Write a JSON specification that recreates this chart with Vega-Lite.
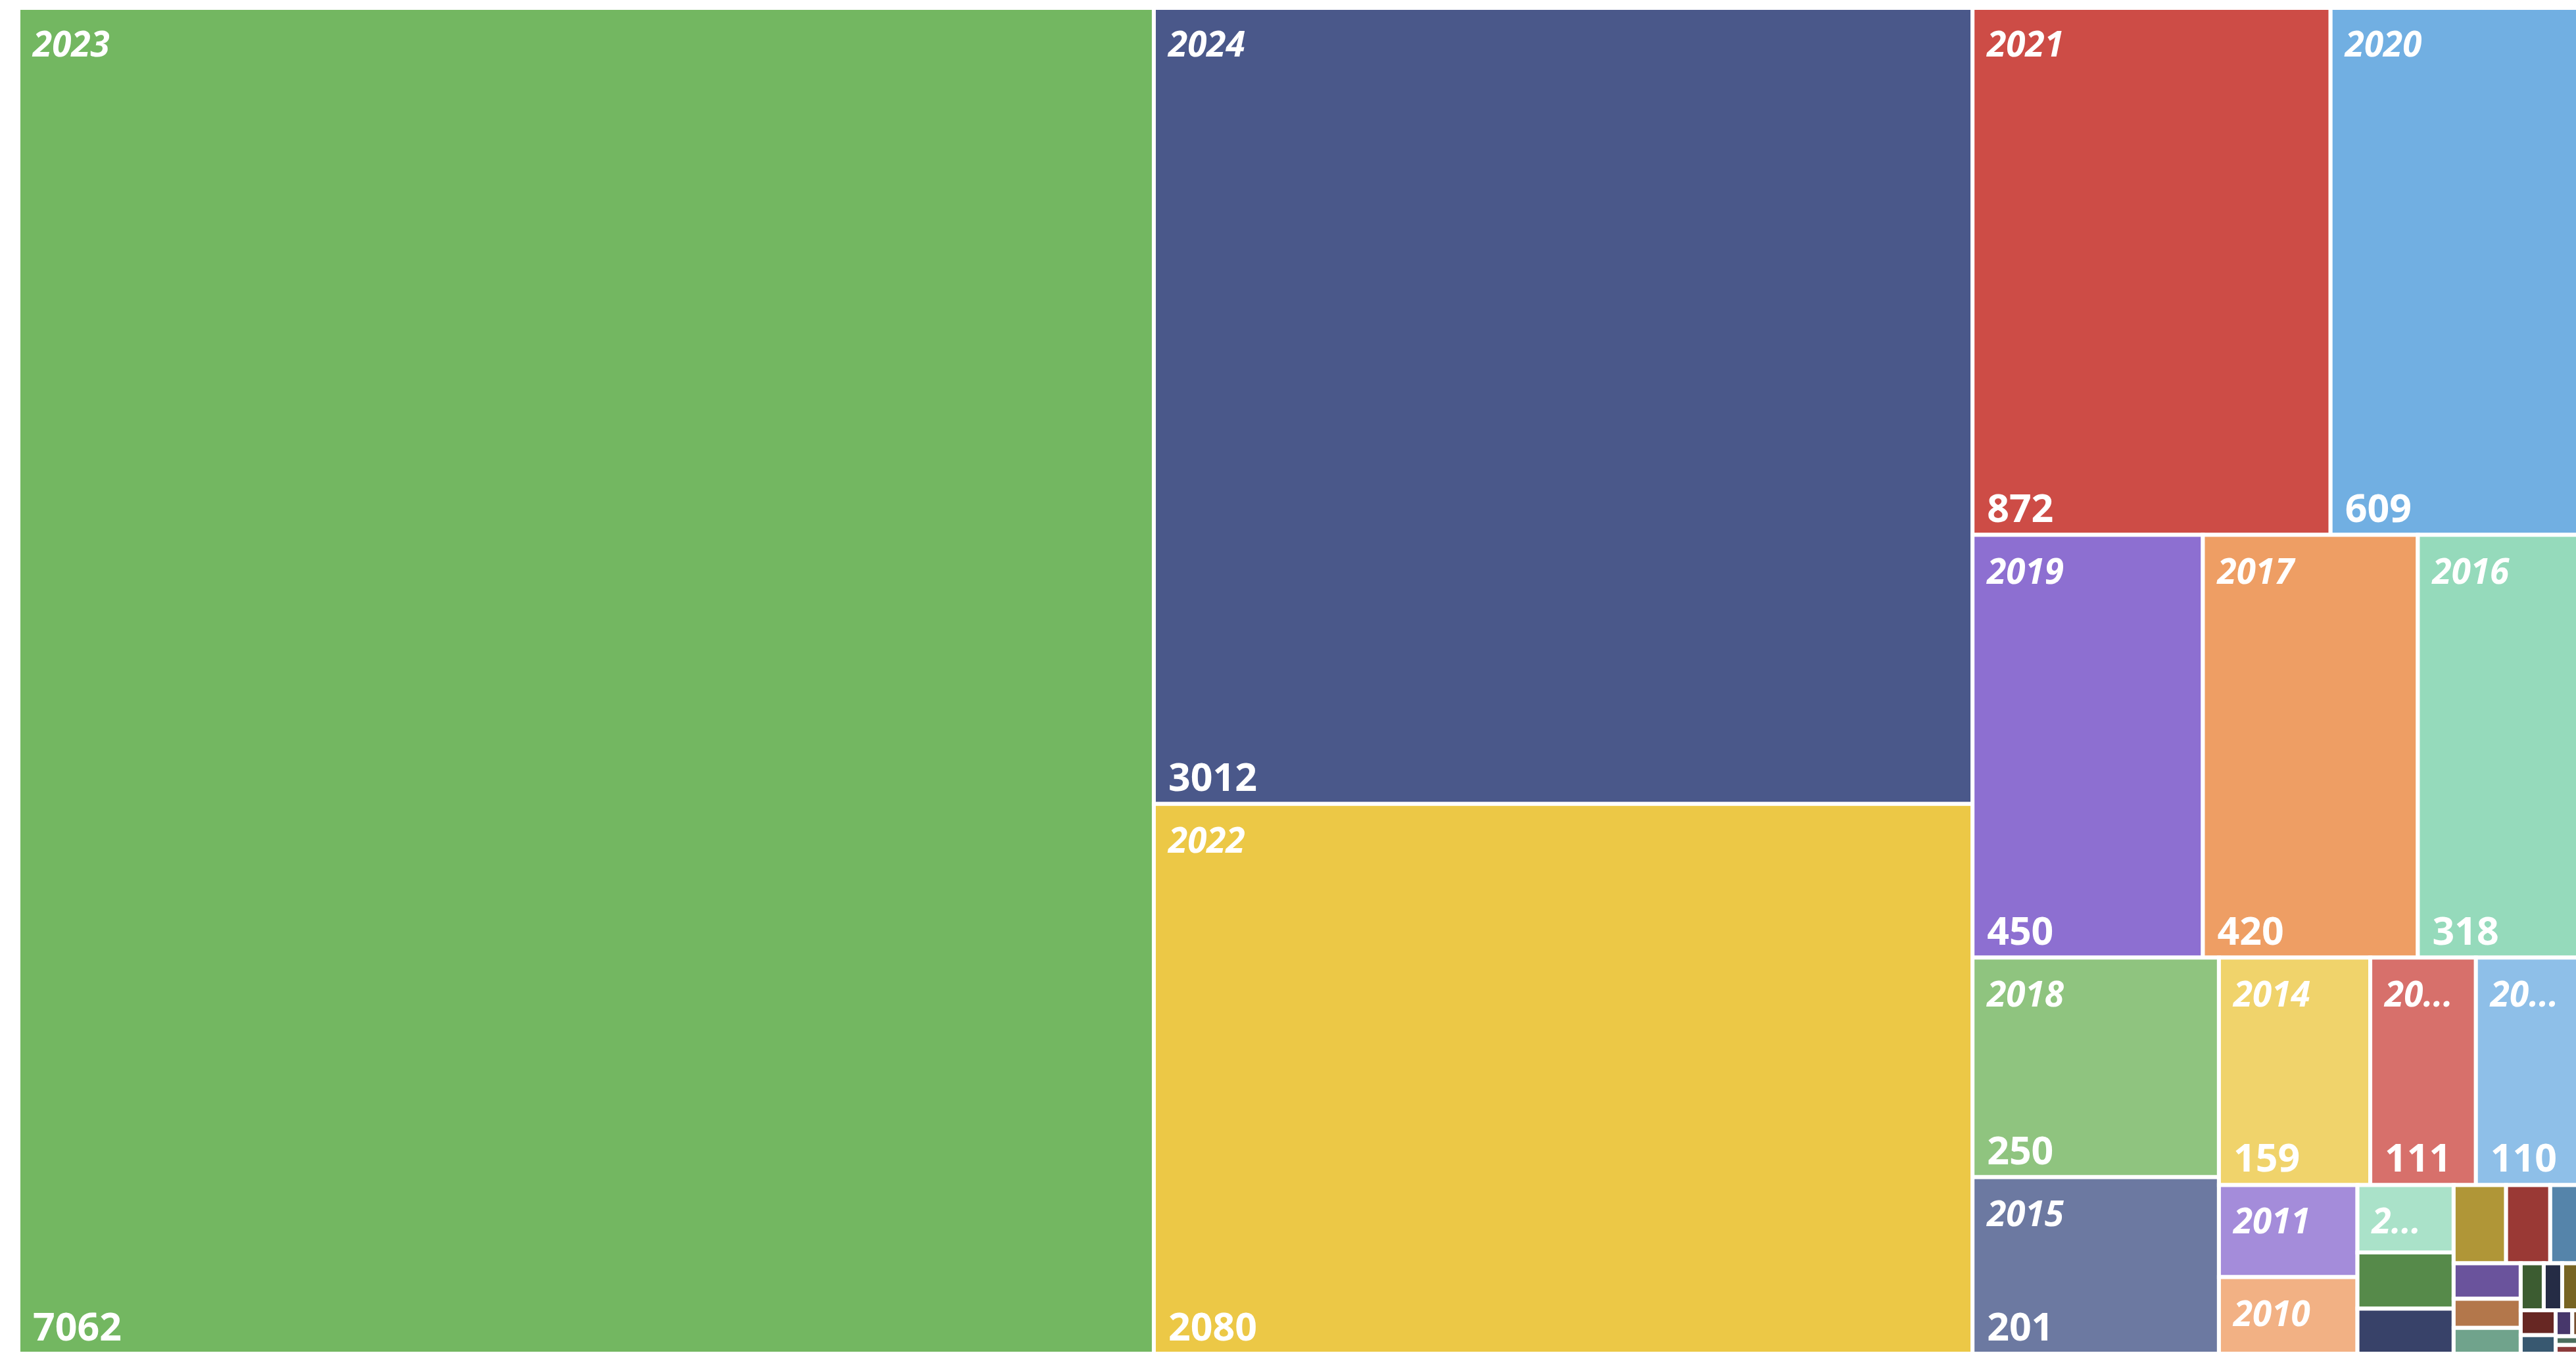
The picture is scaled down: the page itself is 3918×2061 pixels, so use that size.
{
  "$schema": "https://vega.github.io/schema/vega-lite/v6.json",
  "autosize": {"type": "none"},
  "width": 3890,
  "height": 2047,
  "padding": {"left": 28, "top": 12, "right": 0, "bottom": 2},
  "background": "white",
  "config": {"view": {"stroke": null}},
  "data": {
    "values": [
      {"year": "2023", "value": 7062, "strip": 1},
      {"year": "2024", "value": 3012, "strip": 2},
      {"year": "2022", "value": 2080, "strip": 2},
      {"year": "2021", "value": 872, "strip": 3},
      {"year": "2020", "value": 609, "strip": 3},
      {"year": "2019", "value": 450, "strip": 4},
      {"year": "2017", "value": 420, "strip": 4},
      {"year": "2016", "value": 318, "strip": 4},
      {"year": "2018", "value": 250, "strip": 5},
      {"year": "2015", "value": 201, "strip": 5},
      {"year": "2014", "value": 159, "strip": 6},
      {"year": "2013", "value": 111, "strip": 6},
      {"year": "2012", "value": 110, "strip": 6},
      {"year": "2011", "value": 59, "strip": 7},
      {"year": "2010", "value": 49, "strip": 7},
      {"year": "2009", "value": 30, "strip": 8},
      {"year": "2008", "value": 25, "strip": 8},
      {"year": "2007", "value": 20, "strip": 8},
      {"year": "2006", "value": 19, "strip": 9},
      {"year": "2005", "value": 16, "strip": 9},
      {"year": "2004", "value": 11, "strip": 9},
      {"year": "2003", "value": 11, "strip": 10},
      {"year": "2002", "value": 9, "strip": 10},
      {"year": "2001", "value": 8, "strip": 10},
      {"year": "2000", "value": 5, "strip": 11},
      {"year": "1999", "value": 4, "strip": 11},
      {"year": "1998", "value": 4, "strip": 11},
      {"year": "1997", "value": 4, "strip": 12},
      {"year": "1996", "value": 3, "strip": 12},
      {"year": "1995", "value": 2, "strip": 13},
      {"year": "1994", "value": 1, "strip": 13},
      {"year": "1993", "value": 1, "strip": 14},
      {"year": "1992", "value": 1, "strip": 14}
    ]
  },
  "transform": [
    {"joinaggregate": [{"op": "sum", "field": "value", "as": "T"}]},
    {"joinaggregate": [{"op": "sum", "field": "value", "as": "S"}], "groupby": ["strip"]},
    {"calculate": "0", "as": "ax0"},
    {"calculate": "0", "as": "ay0"},

    {"calculate": "datum.strip == 1 ? datum.S : 0", "as": "t1"},
    {"joinaggregate": [{"op": "max", "field": "t1", "as": "S1"}]},
    {"calculate": "(1 - datum.ax0) * 1.90376 >= (1 - datum.ay0) ? 1 : 0", "as": "o1"},
    {"calculate": "datum.strip > 1 && datum.o1 == 1 ? datum.ax0 + datum.S1 / (datum.T * (1 - datum.ay0)) : datum.ax0", "as": "ax1"},
    {"calculate": "datum.strip > 1 && datum.o1 == 0 ? datum.ay0 + datum.S1 / (datum.T * (1 - datum.ax0)) : datum.ay0", "as": "ay1"},

    {"calculate": "datum.strip == 2 ? datum.S : 0", "as": "t2"},
    {"joinaggregate": [{"op": "max", "field": "t2", "as": "S2"}]},
    {"calculate": "(1 - datum.ax1) * 1.90376 >= (1 - datum.ay1) ? 1 : 0", "as": "o2"},
    {"calculate": "datum.strip > 2 && datum.o2 == 1 ? datum.ax1 + datum.S2 / (datum.T * (1 - datum.ay1)) : datum.ax1", "as": "ax2"},
    {"calculate": "datum.strip > 2 && datum.o2 == 0 ? datum.ay1 + datum.S2 / (datum.T * (1 - datum.ax1)) : datum.ay1", "as": "ay2"},

    {"calculate": "datum.strip == 3 ? datum.S : 0", "as": "t3"},
    {"joinaggregate": [{"op": "max", "field": "t3", "as": "S3"}]},
    {"calculate": "(1 - datum.ax2) * 1.90376 >= (1 - datum.ay2) ? 1 : 0", "as": "o3"},
    {"calculate": "datum.strip > 3 && datum.o3 == 1 ? datum.ax2 + datum.S3 / (datum.T * (1 - datum.ay2)) : datum.ax2", "as": "ax3"},
    {"calculate": "datum.strip > 3 && datum.o3 == 0 ? datum.ay2 + datum.S3 / (datum.T * (1 - datum.ax2)) : datum.ay2", "as": "ay3"},

    {"calculate": "datum.strip == 4 ? datum.S : 0", "as": "t4"},
    {"joinaggregate": [{"op": "max", "field": "t4", "as": "S4"}]},
    {"calculate": "(1 - datum.ax3) * 1.90376 >= (1 - datum.ay3) ? 1 : 0", "as": "o4"},
    {"calculate": "datum.strip > 4 && datum.o4 == 1 ? datum.ax3 + datum.S4 / (datum.T * (1 - datum.ay3)) : datum.ax3", "as": "ax4"},
    {"calculate": "datum.strip > 4 && datum.o4 == 0 ? datum.ay3 + datum.S4 / (datum.T * (1 - datum.ax3)) : datum.ay3", "as": "ay4"},

    {"calculate": "datum.strip == 5 ? datum.S : 0", "as": "t5"},
    {"joinaggregate": [{"op": "max", "field": "t5", "as": "S5"}]},
    {"calculate": "(1 - datum.ax4) * 1.90376 >= (1 - datum.ay4) ? 1 : 0", "as": "o5"},
    {"calculate": "datum.strip > 5 && datum.o5 == 1 ? datum.ax4 + datum.S5 / (datum.T * (1 - datum.ay4)) : datum.ax4", "as": "ax5"},
    {"calculate": "datum.strip > 5 && datum.o5 == 0 ? datum.ay4 + datum.S5 / (datum.T * (1 - datum.ax4)) : datum.ay4", "as": "ay5"},

    {"calculate": "datum.strip == 6 ? datum.S : 0", "as": "t6"},
    {"joinaggregate": [{"op": "max", "field": "t6", "as": "S6"}]},
    {"calculate": "(1 - datum.ax5) * 1.90376 >= (1 - datum.ay5) ? 1 : 0", "as": "o6"},
    {"calculate": "datum.strip > 6 && datum.o6 == 1 ? datum.ax5 + datum.S6 / (datum.T * (1 - datum.ay5)) : datum.ax5", "as": "ax6"},
    {"calculate": "datum.strip > 6 && datum.o6 == 0 ? datum.ay5 + datum.S6 / (datum.T * (1 - datum.ax5)) : datum.ay5", "as": "ay6"},

    {"calculate": "datum.strip == 7 ? datum.S : 0", "as": "t7"},
    {"joinaggregate": [{"op": "max", "field": "t7", "as": "S7"}]},
    {"calculate": "(1 - datum.ax6) * 1.90376 >= (1 - datum.ay6) ? 1 : 0", "as": "o7"},
    {"calculate": "datum.strip > 7 && datum.o7 == 1 ? datum.ax6 + datum.S7 / (datum.T * (1 - datum.ay6)) : datum.ax6", "as": "ax7"},
    {"calculate": "datum.strip > 7 && datum.o7 == 0 ? datum.ay6 + datum.S7 / (datum.T * (1 - datum.ax6)) : datum.ay6", "as": "ay7"},

    {"calculate": "datum.strip == 8 ? datum.S : 0", "as": "t8"},
    {"joinaggregate": [{"op": "max", "field": "t8", "as": "S8"}]},
    {"calculate": "(1 - datum.ax7) * 1.90376 >= (1 - datum.ay7) ? 1 : 0", "as": "o8"},
    {"calculate": "datum.strip > 8 && datum.o8 == 1 ? datum.ax7 + datum.S8 / (datum.T * (1 - datum.ay7)) : datum.ax7", "as": "ax8"},
    {"calculate": "datum.strip > 8 && datum.o8 == 0 ? datum.ay7 + datum.S8 / (datum.T * (1 - datum.ax7)) : datum.ay7", "as": "ay8"},

    {"calculate": "datum.strip == 9 ? datum.S : 0", "as": "t9"},
    {"joinaggregate": [{"op": "max", "field": "t9", "as": "S9"}]},
    {"calculate": "(1 - datum.ax8) * 1.90376 >= (1 - datum.ay8) ? 1 : 0", "as": "o9"},
    {"calculate": "datum.strip > 9 && datum.o9 == 1 ? datum.ax8 + datum.S9 / (datum.T * (1 - datum.ay8)) : datum.ax8", "as": "ax9"},
    {"calculate": "datum.strip > 9 && datum.o9 == 0 ? datum.ay8 + datum.S9 / (datum.T * (1 - datum.ax8)) : datum.ay8", "as": "ay9"},

    {"calculate": "datum.strip == 10 ? datum.S : 0", "as": "t10"},
    {"joinaggregate": [{"op": "max", "field": "t10", "as": "S10"}]},
    {"calculate": "(1 - datum.ax9) * 1.90376 >= (1 - datum.ay9) ? 1 : 0", "as": "o10"},
    {"calculate": "datum.strip > 10 && datum.o10 == 1 ? datum.ax9 + datum.S10 / (datum.T * (1 - datum.ay9)) : datum.ax9", "as": "ax10"},
    {"calculate": "datum.strip > 10 && datum.o10 == 0 ? datum.ay9 + datum.S10 / (datum.T * (1 - datum.ax9)) : datum.ay9", "as": "ay10"},

    {"calculate": "datum.strip == 11 ? datum.S : 0", "as": "t11"},
    {"joinaggregate": [{"op": "max", "field": "t11", "as": "S11"}]},
    {"calculate": "(1 - datum.ax10) * 1.90376 >= (1 - datum.ay10) ? 1 : 0", "as": "o11"},
    {"calculate": "datum.strip > 11 && datum.o11 == 1 ? datum.ax10 + datum.S11 / (datum.T * (1 - datum.ay10)) : datum.ax10", "as": "ax11"},
    {"calculate": "datum.strip > 11 && datum.o11 == 0 ? datum.ay10 + datum.S11 / (datum.T * (1 - datum.ax10)) : datum.ay10", "as": "ay11"},

    {"calculate": "datum.strip == 12 ? datum.S : 0", "as": "t12"},
    {"joinaggregate": [{"op": "max", "field": "t12", "as": "S12"}]},
    {"calculate": "(1 - datum.ax11) * 1.90376 >= (1 - datum.ay11) ? 1 : 0", "as": "o12"},
    {"calculate": "datum.strip > 12 && datum.o12 == 1 ? datum.ax11 + datum.S12 / (datum.T * (1 - datum.ay11)) : datum.ax11", "as": "ax12"},
    {"calculate": "datum.strip > 12 && datum.o12 == 0 ? datum.ay11 + datum.S12 / (datum.T * (1 - datum.ax11)) : datum.ay11", "as": "ay12"},

    {"calculate": "datum.strip == 13 ? datum.S : 0", "as": "t13"},
    {"joinaggregate": [{"op": "max", "field": "t13", "as": "S13"}]},
    {"calculate": "(1 - datum.ax12) * 1.90376 >= (1 - datum.ay12) ? 1 : 0", "as": "o13"},
    {"calculate": "datum.strip > 13 && datum.o13 == 1 ? datum.ax12 + datum.S13 / (datum.T * (1 - datum.ay12)) : datum.ax12", "as": "ax13"},
    {"calculate": "datum.strip > 13 && datum.o13 == 0 ? datum.ay12 + datum.S13 / (datum.T * (1 - datum.ax12)) : datum.ay12", "as": "ay13"},

    {"window": [{"op": "sum", "field": "value", "as": "cum"}], "groupby": ["strip"], "sort": [{"field": "value", "order": "descending"}, {"field": "year", "order": "descending"}], "frame": [null, 0], "ignorePeers": true},
    {"calculate": "1 - datum.ax13", "as": "rw"},
    {"calculate": "1 - datum.ay13", "as": "rh"},
    {"calculate": "datum.rw * 1.90376 >= datum.rh ? 1 : 0", "as": "col"},
    {"calculate": "datum.col == 1 ? datum.ax13 : datum.ax13 + datum.rw * (datum.cum - datum.value) / datum.S", "as": "x0"},
    {"calculate": "datum.col == 1 ? datum.ax13 + datum.S / (datum.T * datum.rh) : datum.ax13 + datum.rw * datum.cum / datum.S", "as": "x1"},
    {"calculate": "datum.col == 1 ? datum.ay13 + datum.rh * (datum.cum - datum.value) / datum.S : datum.ay13", "as": "y0"},
    {"calculate": "datum.col == 1 ? datum.ay13 + datum.rh * datum.cum / datum.S : datum.ay13 + datum.S / (datum.T * datum.rw)", "as": "y1"},
    {"calculate": "(datum.x1 - datum.x0) * 3897", "as": "pw"},
    {"calculate": "(datum.y1 - datum.y0) * 2047", "as": "ph"},
    {"calculate": "datum.pw - 44", "as": "lim"}
  ],
  "layer": [
    {
      "mark": {"type": "rect", "stroke": "white", "strokeWidth": 6, "clip": true},
      "encoding": {
        "x": {"field": "x0", "type": "quantitative", "scale": {"domain": [0, 0.998204], "nice": false, "zero": false}, "axis": null},
        "x2": {"field": "x1"},
        "y": {"field": "y0", "type": "quantitative", "scale": {"domain": [0, 1], "nice": false, "zero": false, "reverse": true}, "axis": null},
        "y2": {"field": "y1"},
        "color": {
          "field": "year",
          "type": "nominal",
          "legend": null,
          "scale": {
            "domain": ["2023","2024","2022","2021","2020","2019","2017","2016","2018","2015","2014","2013","2012","2011","2010","2009","2008","2007","2006","2005","2004","2003","2002","2001","2000","1999","1998","1997","1996","1995","1994","1993","1992"],
            "range": ["#73B761","#4A588A","#ECC846","#CD4C46","#71AFE2","#8D6FD1","#EE9E64","#95DABB","#8FC47F","#6C79A1","#F0D36B","#D7706B","#8EBFE8","#A48CDA","#F2B184","#AAE2C9","#568A4A","#384269","#B09637","#9A3935","#5584AA","#6A539C","#B3774B","#70A38C","#3C5C31","#252C45","#776423","#672723","#385870","#47376B","#775032","#4B6E5D","#8B3A3A"]
          }
        }
      }
    },
    {
      "transform": [{"filter": "datum.pw >= 120 && datum.ph >= 95"}],
      "mark": {"type": "text", "align": "left", "baseline": "alphabetic", "dx": 22, "dy": 74, "font": "Open Sans", "fontSize": 53, "fontWeight": "bold", "fontStyle": "italic", "fill": "white", "limit": {"expr": "datum.lim"}, "ellipsis": "..."},
      "encoding": {
        "x": {"field": "x0", "type": "quantitative", "scale": {"domain": [0, 0.998204], "nice": false, "zero": false}, "axis": null},
        "y": {"field": "y0", "type": "quantitative", "scale": {"domain": [0, 1], "nice": false, "zero": false, "reverse": true}, "axis": null},
        "text": {"field": "year", "type": "nominal"}
      }
    },
    {
      "transform": [{"filter": "datum.ph >= 200 && datum.pw >= 100"}],
      "mark": {"type": "text", "align": "left", "baseline": "alphabetic", "dx": 22, "dy": -20, "font": "Open Sans", "fontSize": 59, "fontWeight": "bold", "fill": "white", "limit": {"expr": "datum.lim"}, "ellipsis": "..."},
      "encoding": {
        "x": {"field": "x0", "type": "quantitative", "scale": {"domain": [0, 0.998204], "nice": false, "zero": false}, "axis": null},
        "y": {"field": "y1", "type": "quantitative", "scale": {"domain": [0, 1], "nice": false, "zero": false, "reverse": true}, "axis": null},
        "text": {"field": "value", "type": "quantitative"}
      }
    }
  ]
}
